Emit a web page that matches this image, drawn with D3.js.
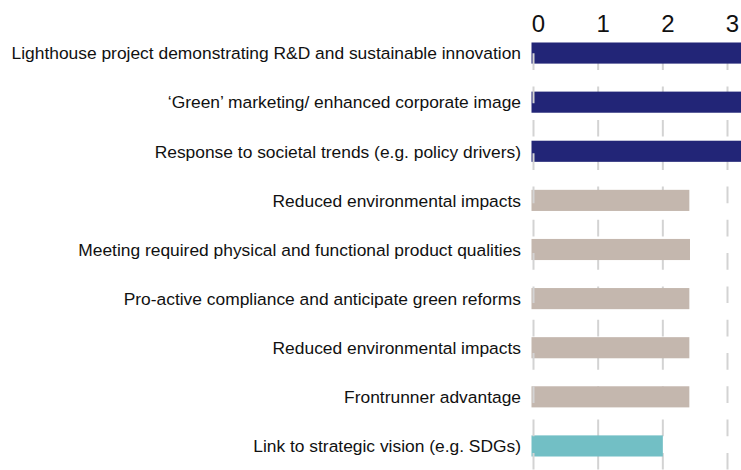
<!DOCTYPE html>
<meta charset="utf-8">
<style>
	body { margin: 0; background: #fff; }
	svg { display: block; font-family: "Liberation Sans", Arial, sans-serif; }
	.grid line {
	  stroke: #d3d3d3;
	  stroke-width: 2px;
	  stroke-dasharray: 16.7 16.6;
	}
	.labels text { font-size: 17.4px; fill: #111; }
	.ticks text { font-size: 24px; fill: #111; }
</style>
<svg width="741" height="470"></svg>
<script src="https://d3js.org/d3.v7.min.js"></script>
<script>
	// data
	var categories = [
		"Lighthouse project demonstrating R&D and sustainable innovation",
		"\u2018Green\u2019 marketing/ enhanced corporate image",
		"Response to societal trends (e.g. policy drivers)",
		"Reduced environmental impacts",
		"Meeting required physical and functional product qualities",
		"Pro-active compliance and anticipate green reforms",
		"Reduced environmental impacts",
		"Frontrunner advantage",
		"Link to strategic vision (e.g. SDGs)"
	];
	var values = [3.4, 3.4, 3.4, 2.41, 2.42, 2.41, 2.41, 2.41, 2.0];
	var groups = ["high", "high", "high", "mid", "mid", "mid", "mid", "mid", "low"];
	var tickValues = [0, 1, 2, 3];

	var color = d3.scaleOrdinal()
		.domain(["high", "mid", "low"])
		.range(["#222577", "#c4b7ae", "#72bfc5"]);

	// scales
	var x = d3.scaleLinear().domain([0, 3]).range([533.5, 727.5]);
	var y = d3.scaleBand()
		.domain(d3.range(categories.length))
		.range([28.5, 470.5])
		.paddingInner(0.57)
		.paddingOuter(0.285);

	var svg = d3.select("svg");

	// grid (behind bars)
	svg.append("g")
		.attr("class", "grid")
		.selectAll("line")
		.data(tickValues.slice(1))
		.enter().append("line")
			.attr("x1", function(d) { return x(d); })
			.attr("x2", function(d) { return x(d); })
			.attr("y1", 53.3)
			.attr("y2", 470);

	// bars
	svg.append("g")
		.attr("class", "bars")
		.selectAll("rect")
		.data(values)
		.enter().append("rect")
			.attr("x", x(0) - 2)
			.attr("y", function(d, i) { return y(i); })
			.attr("width", function(d) { return x(d) - x(0) + 2; })
			.attr("height", y.bandwidth())
			.attr("fill", function(d, i) { return color(groups[i]); });

	// zero line sits on top of bars
	svg.append("g")
		.attr("class", "grid")
		.append("line")
			.attr("x1", x(0))
			.attr("x2", x(0))
			.attr("y1", 53.3)
			.attr("y2", 470);

	// category labels
	svg.append("g")
		.attr("class", "labels")
		.selectAll("text")
		.data(categories)
		.enter().append("text")
			.attr("x", 521)
			.attr("y", function(d, i) { return y(i) + y.bandwidth() / 2; })
			.attr("dy", "0.36em")
			.attr("text-anchor", "end")
			.text(function(d) { return d; });

	// top tick labels
	svg.append("g")
		.attr("class", "ticks")
		.selectAll("text")
		.data(tickValues)
		.enter().append("text")
			.attr("x", function(d) { return x(d) + 5; })
			.attr("y", 32)
			.attr("text-anchor", "middle")
			.text(function(d) { return d; });
</script>
